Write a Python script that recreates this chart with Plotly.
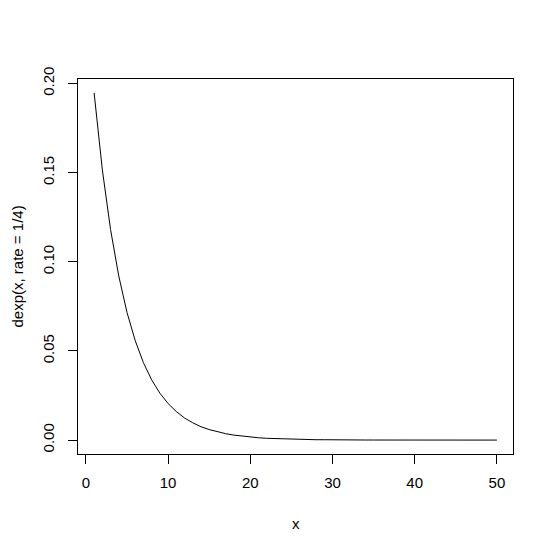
import plotly.graph_objects as go

x_vals = list(range(1, 51))
y_vals = [0.1947, 0.1516, 0.1181, 0.0920, 0.0716, 0.0558, 0.0434, 0.0338, 0.0263, 0.0205,
          0.0160, 0.0124, 0.0097, 0.0075, 0.0059, 0.0046, 0.0036, 0.0028, 0.0022, 0.0017,
          0.0013, 0.0010, 0.0008, 0.0006, 0.0005, 0.0004, 0.0003, 0.0002, 0.0002, 0.0001,
          0.0001, 0.0001, 0.00006, 0.00005, 0.00004, 0.00003, 0.00002, 0.00002, 0.00001, 0.00001,
          0.00001, 0.00001, 0.00001, 0.0, 0.0, 0.0, 0.0, 0.0, 0.0, 0.0]
x_ticks = [0, 10, 20, 30, 40, 50]
y_ticks = [0.00, 0.05, 0.10, 0.15, 0.20]
y_tick_text = ["0.00", "0.05", "0.10", "0.15", "0.20"]
x_title = "x"
y_title = "dexp(x, rate = 1/4)"

font = dict(family="Liberation Sans, Arial, sans-serif", size=15, color="black")

fig = go.Figure()
fig.add_trace(go.Scatter(x=x_vals, y=y_vals, mode="lines",
                         line=dict(color="black", width=1), showlegend=False,
                         hoverinfo="skip"))

fig.update_layout(
    width=553, height=552,
    margin=dict(l=78, r=40, t=79, b=98, autoexpand=False),
    paper_bgcolor="white", plot_bgcolor="white",
    font=font,
    xaxis=dict(range=[-0.96, 51.96], tickvals=x_ticks, ticks="outside", ticklen=9,
               tickwidth=1, tickcolor="black", showgrid=False, zeroline=False,
               showline=True, linecolor="black", linewidth=1, mirror=True,
               tickfont=font, automargin=False, ticklabelstandoff=6),
    yaxis=dict(range=[-0.0078, 0.2025], tickvals=y_ticks, ticktext=y_tick_text,
               ticks="outside", ticklen=9, tickwidth=1, tickcolor="black",
               showgrid=False, zeroline=False, showline=True, linecolor="black",
               linewidth=1, mirror=True, tickangle=-90, tickfont=font,
               automargin=False, ticklabelstandoff=8),
    annotations=[
        dict(text=x_title, xref="paper", yref="paper", x=0.5, y=0, yshift=-69,
             showarrow=False, font=font, xanchor="center", yanchor="middle"),
        dict(text=y_title, xref="paper", yref="paper", x=0, y=0.5, xshift=-61,
             showarrow=False, font=font, textangle=-90, xanchor="center", yanchor="middle"),
    ],
)

fig.write_html("out.html", config={"displayModeBar": False, "staticPlot": True},
               post_script="document.body.style.margin='0';document.body.style.padding='0';")
